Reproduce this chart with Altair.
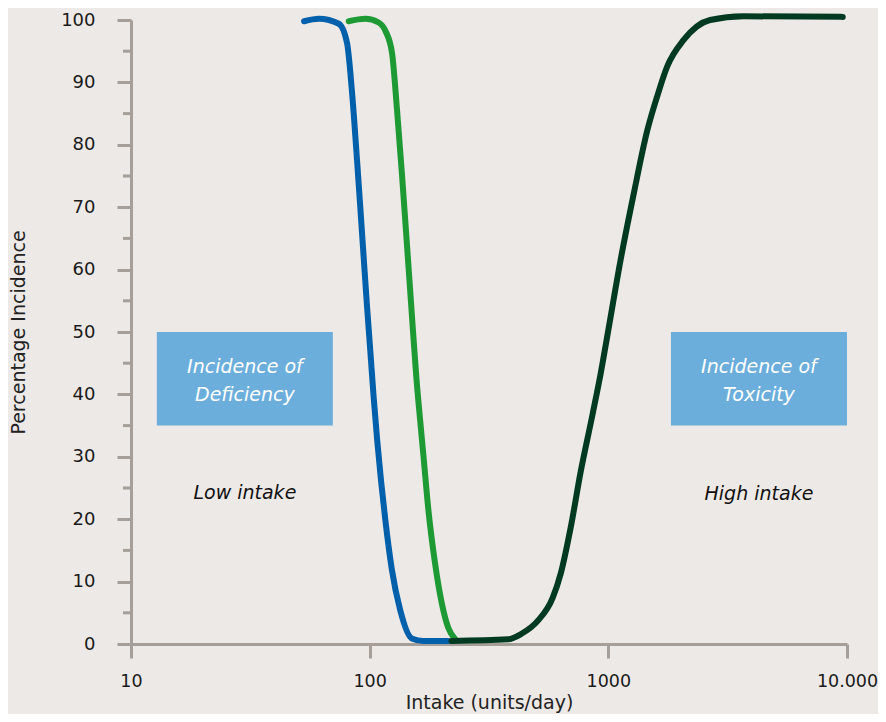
import altair as alt
import pandas as pd

# ---- data ----
blue_x = [53.1, 61.3, 74.3, 80.4, 84.4, 88.5, 91.5, 94.4, 97.4, 100.7, 103.9, 107.5, 111.7, 116.3, 123.9, 134.3, 150.1, 167.9, 213.4]
blue_y = [99.8, 100.2, 99.4, 96.3, 88.3, 77.6, 69.6, 61.9, 54.3, 46.8, 39.6, 32.7, 26.0, 19.9, 11.9, 5.4, 0.9, 0.5, 0.5]

green_x = [81.7, 95.9, 109.0, 116.6, 124.1, 130.2, 136.6, 141.9, 146.8, 151.8, 157.0, 162.7, 167.9, 176.2, 187.8, 200.1, 213.4, 228.2]
green_y = [99.8, 100.2, 99.6, 98.2, 94.7, 85.6, 75.2, 66.3, 58.3, 50.3, 42.6, 35.9, 30.3, 21.5, 13.0, 6.7, 2.6, 0.8]

dark_x = [220.3, 379.6, 431.1, 506.0, 584.4, 632.9, 696.6, 766.6, 857.7, 926.3, 1000, 1125, 1280, 1454, 1600, 1762, 2068, 2669, 3677, 9597]
dark_y = [0.5, 0.75, 1.6, 3.7, 7.4, 11.4, 18.8, 27.7, 36.7, 43.1, 50.3, 61.5, 72.3, 82.2, 87.7, 92.5, 96.8, 100.0, 100.6, 100.5]

box_x1 = [12.83, 1830]
box_x2 = [70.1, 10000]
box_y1 = [35, 35]
box_y2 = [50, 50]

box_text = ["Incidence of", "Deficiency", "Incidence of", "Toxicity"]
box_text_x = [30.0, 30.0, 4276, 4276]
box_text_y = [43.4, 38.9, 43.4, 38.9]

note_text = ["Low intake", "High intake"]
note_x = [30.0, 4276]
note_y = [23.2, 23.1]

x_ticks = [10, 100, 1000, 10000]
x_tick_labels = ["10", "100", "1000", "10.000"]
y_major = [0, 10, 20, 30, 40, 50, 60, 70, 80, 90, 100]
y_minor = [5, 15, 25, 35, 45, 55, 65, 75, 85, 95]

FONT = "DejaVu Sans"
AXIS_GRAY = "#A69E98"
BG = "#EDE9E6"

label_expr = " : ".join(
    f"datum.value == {v} ? '{t}'" for v, t in zip(x_ticks, x_tick_labels)
) + " : datum.label"

xscale = alt.Scale(type="log", domain=[10, 10000], nice=False)
yscale = alt.Scale(domain=[0, 100], nice=False, zero=False)

xaxis = alt.Axis(
    values=x_ticks, title="Intake (units/day)", grid=False,
    labelExpr=label_expr,
    tickSize=14, tickWidth=3, tickColor=AXIS_GRAY, domainWidth=3, domainColor=AXIS_GRAY,
    labelFont=FONT, labelFontSize=17.5, labelColor="#1a1a1a", labelPadding=14,
    labelOverlap=False, labelBound=False, labelFlush=False,
    titleFont=FONT, titleFontSize=19, titleFontWeight="normal", titleColor="#222222",
    titleY=58, titleBaseline="middle",
)
yaxis = alt.Axis(
    values=y_major, title="Percentage Incidence", grid=False,
    tickSize=14, tickWidth=3, tickColor=AXIS_GRAY, domainWidth=3, domainColor=AXIS_GRAY,
    labelFont=FONT, labelFontSize=18, labelColor="#1a1a1a", labelPadding=22,
    labelOverlap=False, labelBound=False, labelFlush=False,
    titleFont=FONT, titleFontSize=19, titleFontWeight="normal", titleColor="#222222",
    titleX=-113, titleBaseline="middle",
)

df_blue = pd.DataFrame({"x": blue_x, "y": blue_y})
df_green = pd.DataFrame({"x": green_x, "y": green_y})
df_dark = pd.DataFrame({"x": dark_x, "y": dark_y})
df_box = pd.DataFrame({"x1": box_x1, "x2": box_x2, "y1": box_y1, "y2": box_y2})
df_btext = pd.DataFrame({"t": box_text, "x": box_text_x, "y": box_text_y})
df_note = pd.DataFrame({"t": note_text, "x": note_x, "y": note_y})
df_minor = pd.DataFrame({"y": y_minor})

boxes = alt.Chart(df_box).mark_rect(color="#6BAEDC").encode(
    x=alt.X("x1:Q", scale=xscale, axis=xaxis),
    x2="x2:Q",
    y=alt.Y("y1:Q", scale=yscale, axis=yaxis),
    y2="y2:Q",
)

btext = alt.Chart(df_btext).mark_text(
    font=FONT, fontSize=19, fontStyle="italic", color="white", baseline="alphabetic", align="center"
).encode(x=alt.X("x:Q", scale=xscale), y=alt.Y("y:Q", scale=yscale), text="t:N")

notes = alt.Chart(df_note).mark_text(
    font=FONT, fontSize=19, fontStyle="italic", color="#111111", baseline="alphabetic", align="center"
).encode(x=alt.X("x:Q", scale=xscale), y=alt.Y("y:Q", scale=yscale), text="t:N")

minor = alt.Chart(df_minor).mark_rule(color=AXIS_GRAY, strokeWidth=3).encode(
    y=alt.Y("y:Q", scale=yscale), x=alt.value(-8), x2=alt.value(0)
)

def curve(df, color):
    return alt.Chart(df).mark_line(
        color=color, strokeWidth=6, strokeCap="round", strokeJoin="round", interpolate="monotone", clip=False
    ).encode(x=alt.X("x:Q", scale=xscale), y=alt.Y("y:Q", scale=yscale))

chart = alt.layer(
    boxes, btext, notes, minor,
    curve(df_blue, "#0060AC"),
    curve(df_green, "#1E9A34"),
    curve(df_dark, "#003B21"),
).properties(
    width=716, height=624,
    autosize=alt.AutoSizeParams(type="none"),
    padding={"left": 123, "top": 12, "right": 31, "bottom": 70},
    background=BG,
).configure_view(stroke=None)

chart.save("out.html", embed_options={"renderer": "svg", "actions": False})
